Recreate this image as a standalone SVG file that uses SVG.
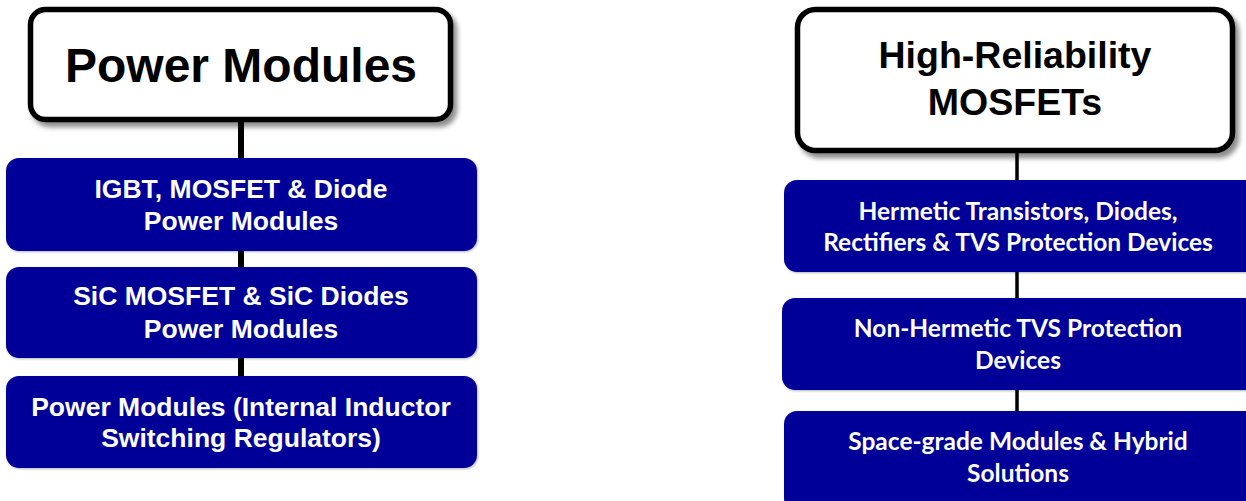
<svg xmlns="http://www.w3.org/2000/svg" width="1246" height="501" viewBox="0 0 1246 501">
<defs>
<filter id="sh" x="-10%" y="-10%" width="125%" height="135%">
<feGaussianBlur in="SourceAlpha" stdDeviation="2.5"/>
<feOffset dx="4" dy="5" result="b"/>
<feComponentTransfer><feFuncA type="linear" slope="0.45"/></feComponentTransfer>
<feMerge><feMergeNode/><feMergeNode in="SourceGraphic"/></feMerge>
</filter>
<filter id="sh2" x="-5%" y="-10%" width="110%" height="125%">
<feGaussianBlur in="SourceAlpha" stdDeviation="1"/>
<feOffset dx="1" dy="1" result="b"/>
<feComponentTransfer><feFuncA type="linear" slope="0.3"/></feComponentTransfer>
<feMerge><feMergeNode/><feMergeNode in="SourceGraphic"/></feMerge>
</filter>
</defs>
<style>
.hdr{fill:#fff;stroke:#000;stroke-width:5.5;filter:url(#sh)}
.blue{fill:#000099;filter:url(#sh2)}
.ht{font-family:"Liberation Sans",Arial,sans-serif;font-weight:bold;fill:#000;text-anchor:middle}
.at{font-family:"Liberation Sans",Arial,sans-serif;font-weight:bold;font-size:26.5px;fill:#fff;text-anchor:middle}
.ct{font-family:Lato,"Noto Sans",sans-serif;font-weight:bold;font-size:24.5px;fill:#fff;text-anchor:middle}
.ln{stroke:#000}
</style>
<rect width="1246" height="501" fill="#fff"/>
<g id="connectors">
<line class="ln" x1="241" y1="120" x2="241" y2="378" stroke-width="6"/>
<line class="ln" x1="1017" y1="150" x2="1017" y2="413" stroke-width="3.5"/>
</g>
<g id="power-modules">
<rect class="hdr" x="30.5" y="9.5" width="420" height="110" rx="15"/>
<text class="ht" x="241" y="82" font-size="48">Power Modules</text>
</g>
<g id="igbt">
<rect class="blue" x="6" y="158" width="471" height="93" rx="13"/>
<text class="at" x="241" y="198">IGBT, MOSFET &amp; Diode</text>
<text class="at" x="241" y="230">Power Modules</text>
</g>
<g id="sic">
<rect class="blue" x="6" y="267" width="471" height="91" rx="13"/>
<text class="at" x="241" y="305">SiC MOSFET &amp; SiC Diodes</text>
<text class="at" x="241" y="338">Power Modules</text>
</g>
<g id="internal-inductor">
<rect class="blue" x="6" y="376" width="471" height="92" rx="13"/>
<text class="at" x="241" y="416">Power Modules (Internal Inductor</text>
<text class="at" x="241" y="447">Switching Regulators)</text>
</g>
<g id="hirel">
<rect class="hdr" x="797.5" y="9.5" width="435" height="141" rx="18"/>
<text class="ht" x="1015" y="68" font-size="37.5">High-Reliability</text>
<text class="ht" x="1015" y="115" font-size="37.5">MOSFETs</text>
</g>
<g id="hermetic">
<rect class="blue" x="784" y="180" width="475" height="92" rx="13"/>
<text class="ct" x="1018" y="220">Hermetic Transistors, Diodes,</text>
<text class="ct" x="1018" y="251">Rectifiers &amp; TVS Protection Devices</text>
</g>
<g id="non-hermetic">
<rect class="blue" x="782" y="298" width="477" height="92" rx="13"/>
<text class="ct" x="1018" y="337">Non-Hermetic TVS Protection</text>
<text class="ct" x="1018" y="369">Devices</text>
</g>
<g id="space-grade">
<rect class="blue" x="784" y="411" width="475" height="100" rx="13"/>
<text class="ct" x="1018" y="450">Space-grade Modules &amp; Hybrid</text>
<text class="ct" x="1018" y="482">Solutions</text>
</g>
</svg>
